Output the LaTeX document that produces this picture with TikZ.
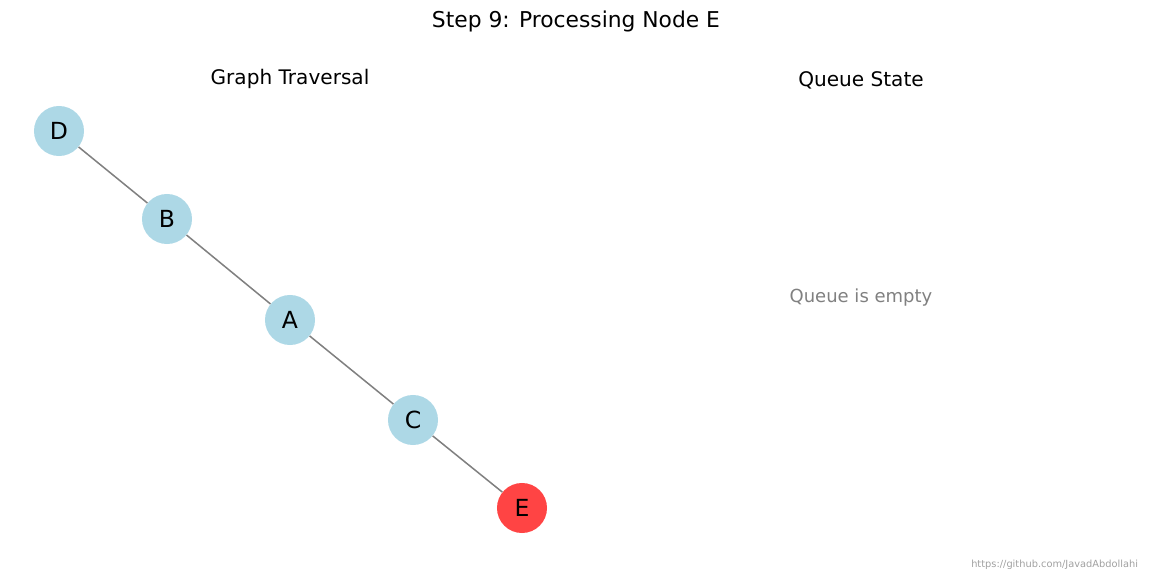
\documentclass[tikz,border=0pt]{standalone}
\usepackage{fontspec}
\setmainfont{DejaVu Sans}
\usetikzlibrary{shapes,arrows}

\begin{document}
\begin{tikzpicture}[x=0.01in,y=-0.01in]
\tikzstyle{visited} = [circle,fill={rgb,255:red,173;green,216;blue,230},draw=none,minimum size=0.5in,inner sep=0pt,font=\fontsize{17}{20}\selectfont]
\tikzstyle{current} = [visited,fill={rgb,255:red,255;green,68;blue,68}]
\tikzstyle{edge} = [draw={rgb,255:red,128;green,128;blue,128},line width=1.1pt]
\tikzstyle{heading} = [font=\fontsize{14.5}{17}\selectfont]
\useasboundingbox (0,0) rectangle (1152,576);
\node[font=\fontsize{15.75}{19}\selectfont] (title) at (576,21) {Step 9: Processing Node E};
\node[heading] (graphtitle) at (290,79) {Graph Traversal};
\node[heading] (queuetitle) at (861,80) {Queue State};
\node[visited] (D) at (59,131) {D};
\node[visited] (B) at (167,219) {B};
\node[visited] (A) at (290,320) {A};
\node[visited] (C) at (413,420) {C};
\node[current] (E) at (522,508) {E};
\draw[edge] (D) -- (B);
\draw[edge] (B) -- (A);
\draw[edge] (A) -- (C);
\draw[edge] (C) -- (E);
\node[font=\fontsize{13}{15}\selectfont,text={rgb,255:red,128;green,128;blue,128}] (empty) at (861,298) {Queue is empty};
\node[font=\fontsize{7.1}{8}\selectfont,text={rgb,255:red,160;green,160;blue,160},anchor=east] (url) at (1143,565) {https://github.com/JavadAbdollahi};
\end{tikzpicture}
\end{document}
